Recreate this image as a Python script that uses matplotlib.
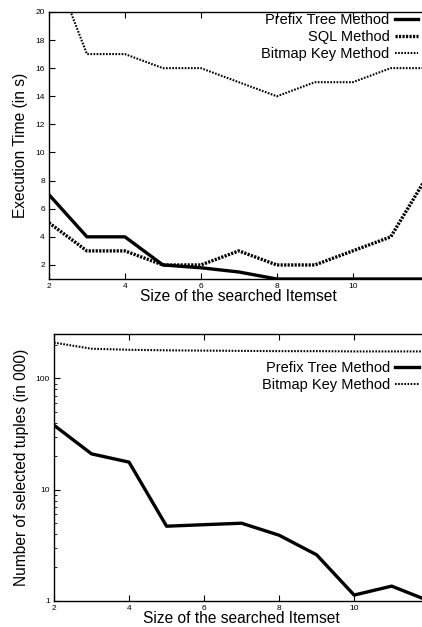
import matplotlib.pyplot as plt
from matplotlib.ticker import FixedLocator, NullFormatter

plt.rcParams['font.family'] = ['Liberation Sans', 'DejaVu Sans']

# dati
itemset = [2, 3, 4, 5, 6, 7, 8, 9, 10, 11, 12]

tempo_prefix = [7, 4, 4, 2, 1.8, 1.5, 1, 1, 1, 1, 1]
tempo_sql = [5, 3, 3, 2, 2, 3, 2, 2, 3, 4, 8.5]
tempo_bitmap = [24, 17, 17, 16, 16, 15, 14, 15, 15, 16, 16]

tuple_prefix = [38, 21, 17.7, 4.7, 4.85, 5.0, 3.9, 2.6, 1.13, 1.36, 1.0]
tuple_bitmap = [210, 185, 181, 179, 178, 177, 176, 176, 175, 175, 175]

fig = plt.figure(figsize=(4.22, 6.27), dpi=100)

# assi piu' larghi della figura: il bordo destro resta tagliato
ax1 = fig.add_axes([0.116, 0.555, 0.90, 0.426])
ax2 = fig.add_axes([0.128, 0.0415, 0.889, 0.4255])

stile_sql = (0, (0.65, 0.4))
stile_bitmap = (0, (0.8, 0.7))

ax1.plot(itemset, tempo_prefix, color='black', lw=2.4, label='Prefix Tree Method')
ax1.plot(itemset, tempo_sql, color='black', lw=2.4, ls=stile_sql, label='SQL Method')
ax1.plot(itemset, tempo_bitmap, color='black', lw=1.5, ls=stile_bitmap, label='Bitmap Key Method')
ax1.set_xlim(2, 12)
ax1.set_ylim(1, 20)
ax1.set_yticks([2, 4, 6, 8, 10, 12, 14, 16, 18, 20])
ax1.set_xticks([2, 4, 6, 8, 10])
ax1.set_ylabel('Execution Time (in s)', fontsize=11.2, labelpad=5)
ax1.set_xlabel('Size of the searched Itemset', fontsize=11.2, labelpad=-1)
ax1.legend(loc='upper right', bbox_to_anchor=(0.972, 0.995), borderaxespad=0,
           frameon=False, markerfirst=False, fontsize=10.5, handlelength=1.6,
           handletextpad=0.35, labelspacing=0.2, borderpad=0)

ax2.plot(itemset, tuple_prefix, color='black', lw=2.4, label='Prefix Tree Method')
ax2.plot(itemset, tuple_bitmap, color='black', lw=1.5, ls=stile_bitmap, label='Bitmap Key Method')
ax2.set_yscale('log')
ax2.set_xlim(2, 12)
ax2.set_ylim(1, 250)
ax2.yaxis.set_major_locator(FixedLocator([1, 10, 100]))
ax2.set_yticklabels(['1', '10', '100'])
ax2.yaxis.set_minor_locator(FixedLocator([2, 3, 4, 5, 6, 7, 8, 9, 20, 30, 40, 50, 60, 70, 80, 90, 200]))
ax2.yaxis.set_minor_formatter(NullFormatter())
ax2.set_xticks([2, 4, 6, 8, 10])
ax2.set_ylabel('Number of selected tuples (in 000)', fontsize=11.2, labelpad=5)
ax2.set_xlabel('Size of the searched Itemset', fontsize=11.2, labelpad=-1)
ax2.legend(loc='upper right', bbox_to_anchor=(0.972, 0.9), borderaxespad=0,
           frameon=False, markerfirst=False, fontsize=10.5, handlelength=1.6,
           handletextpad=0.35, labelspacing=0.2, borderpad=0)

for ax in (ax1, ax2):
    ax.tick_params(which='both', direction='in', top=True, right=False, labelsize=6, pad=3)
    ax.tick_params(which='major', length=4, width=0.8)
    ax.tick_params(which='minor', length=2, width=0.6)
    ax.spines['right'].set_visible(False)
    for s in ax.spines.values():
        s.set_linewidth(1.0)

fig.savefig('out.png', dpi=100)
